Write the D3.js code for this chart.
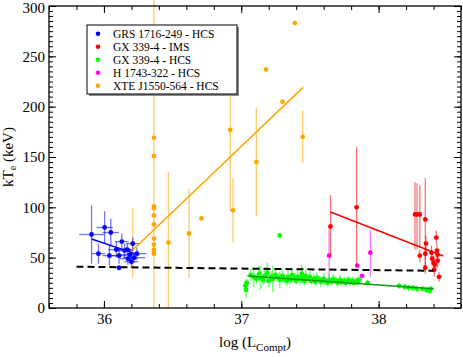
<!DOCTYPE html>
<html>
<head>
<meta charset="utf-8">
<script src="https://cdn.jsdelivr.net/npm/d3@7"></script>
<style>
  body { margin: 0; background: #fff; }
  svg text { font-family: "Liberation Serif", "Times New Roman", Times, "DejaVu Serif", serif; fill: #000; }
</style>
</head>
<body>
<svg id="chart" width="463" height="357"></svg>
<script>
// legend entries
const seriesNames = ['GRS 1716-249 - HCS', 'GX 339-4 - IMS', 'GX 339-4 - HCS', 'H 1743-322 - HCS', 'XTE J1550-564 - HCS'];
const seriesColors = ['#0000ff', '#ff0000', '#00ff00', '#ff00ff', '#ffa500'];

const xTicks = [36, 37, 38];
const yTicks = [0, 50, 100, 150, 200, 250, 300];

// GRS 1716-249 HCS: [logL, kTe, xerr, yerr]
const grsPoints = [
  [35.91, 73, 0.09, 29], [36.005, 80, 0.06, 16], [36.05, 75, 0.06, 14],
  [35.96, 54, 0.05, 10], [36.04, 52, 0.05, 10], [36.13, 66, 0.05, 8],
  [36.09, 58, 0.06, 8], [36.11, 52, 0.05, 8], [36.15, 57, 0.06, 7],
  [36.17, 58, 0.05, 6], [36.175, 49, 0.06, 6], [36.19, 53, 0.07, 6],
  [36.2, 46, 0.05, 6], [36.21, 64, 0.05, 6], [36.24, 54, 0.07, 6],
  [36.22, 50, 0.08, 5], [36.11, 40, 0, 0]
];

// GX 339-4 IMS: [logL, kTe, low, high]
const imsPoints = [
  [37.65, 81, 51, 112], [37.84, 100, 41, 160],
  [38.265, 93, 58, 125], [38.28, 93, 58, 124], [38.30, 93, 60, 122], [38.34, 88, 38, 129],
  [38.30, 52, 46, 58], [38.34, 54, 48, 60], [38.345, 64, 56, 72], [38.34, 40, 34, 47],
  [38.385, 55, 50, 62], [38.39, 49, 42, 55], [38.40, 45, 39, 52], [38.42, 70, 63, 77],
  [38.425, 57, 50, 63], [38.41, 43, 36, 49], [38.43, 47, 40, 53], [38.405, 38, 31, 44],
  [38.44, 31, 26, 36], [38.43, 53, 46, 58]
];

// GX 339-4 HCS: [logL, kTe, yerr]
const hcsPoints = [
  [37.03, 22, 6], [37.035, 18, 8], [37.04, 25, 4], [37.07, 33, 6], [37.09, 31, 10],
  [37.11, 29, 5], [37.13, 34, 8], [37.14, 30, 12], [37.16, 28, 5], [37.17, 32, 7],
  [37.19, 35, 10], [37.2, 27, 6], [37.22, 31, 5], [37.23, 29, 13], [37.25, 33, 6],
  [37.27, 30, 4], [37.28, 28, 8], [37.3, 32, 6], [37.31, 29, 4], [37.33, 27, 5],
  [37.34, 31, 7], [37.36, 28, 4], [37.37, 33, 6], [37.39, 30, 5], [37.4, 27, 4],
  [37.41, 31, 6], [37.43, 29, 5], [37.44, 34, 9], [37.45, 30, 6], [37.46, 27, 5],
  [37.47, 32, 7], [37.49, 29, 4], [37.5, 31, 6], [37.51, 27, 4], [37.53, 29, 5],
  [37.54, 26, 4], [37.55, 30, 5], [37.57, 28, 4], [37.58, 26, 5], [37.6, 29, 6],
  [37.61, 27, 4], [37.63, 25, 4], [37.64, 28, 5], [37.66, 26, 4], [37.67, 29, 5],
  [37.69, 27, 4], [37.7, 25, 4], [37.72, 28, 5], [37.73, 26, 4], [37.75, 27, 4],
  [37.76, 25, 4], [37.78, 28, 4], [37.79, 26, 4], [37.81, 27, 4], [37.82, 25, 3],
  [37.84, 27, 4], [37.85, 26, 3], [37.86, 28, 4], [37.92, 25, 3], [38.15, 22, 3],
  [38.19, 21, 3], [38.22, 20, 3], [38.25, 20, 3], [38.28, 19, 3], [38.32, 19, 3],
  [38.35, 18, 3], [38.37, 17, 3], [38.38, 19, 3], [37.28, 72, 0]
];

// H 1743-322 HCS: [logL, kTe, low, high]
const h1743Points = [
  [37.64, 52, 31, 81], [37.845, 42, null, null], [37.88, 32, null, null], [37.94, 55, 31, 77]
];

// XTE J1550-564 HCS: [logL, kTe, low, high]
const xtePoints = [
  [36.364, 169, 0, 310], [36.364, 151, null, null], [36.364, 101, null, null],
  [36.364, 99, null, null], [36.364, 92, null, null], [36.364, 83, null, null],
  [36.364, 69, null, null], [36.364, 63, null, null], [36.364, 58, null, null],
  [36.364, 56, null, null], [36.364, 54, null, null],
  [36.21, 64, 30, 99], [36.47, 65, 0, 135], [36.62, 74, 30, 119], [36.71, 89, null, null],
  [36.92, 177, 96, 213], [36.94, 97, 65, 129], [37.11, 145, 91, 199],
  [37.18, 237, null, null], [37.30, 205, null, null], [37.39, 283, null, null],
  [37.447, 170, 144, 196]
];

// linear fits and the mean line
const grsFit = [[35.91, 68.5], [36.22, 54.3]];
const imsFit = [[37.65, 95.4], [38.47, 51.7]];
const hcsFit = [[37.045, 31.8], [38.40, 19.2]];
const xteFit = [[36.21, 57.6], [37.45, 219.2]];
const meanLine = [[35.8, 41], [38.4, 37]];

const svg = d3.select('#chart');
const mLeft = 49, mRight = 461, mTop = 6, mBottom = 308;

const x = d3.scaleLinear().domain([35.6, 38.6]).range([mLeft, mRight]);
const y = d3.scaleLinear().domain([0, 300]).range([mBottom, mTop]);

const xMinor = d3.range(35.6, 38.61, 0.2);
const yMinor = d3.range(0, 301, 5);

// ticks on all four sides, pointing in
function ticks(makeAxis, pos, major, minor, labels) {
  const g = svg.append('g').attr('transform', pos);
  g.call(makeAxis().tickValues(minor).tickSize(-4).tickFormat(''));
  g.selectAll('.domain').remove();
  const g2 = svg.append('g').attr('transform', pos);
  g2.call(makeAxis().tickValues(major).tickSize(-7).tickFormat(labels ? d3.format('d') : ''));
  g2.selectAll('.domain').remove();
  g2.attr('font-family', null).attr('font-size', 15);
  svg.selectAll('.tick line').attr('stroke', '#000').attr('stroke-width', 1);
  return g2;
}

ticks(() => d3.axisBottom(x).tickPadding(5.5), `translate(0,${mBottom})`, xTicks, xMinor, true);
ticks(() => d3.axisTop(x), `translate(0,${mTop})`, xTicks, xMinor, false);
ticks(() => d3.axisLeft(y).tickPadding(4), `translate(${mLeft},0)`, yTicks, yMinor, true)
  .selectAll('text').attr('dy', d => d === 300 ? '0.45em' : '0.32em');
ticks(() => d3.axisRight(y), `translate(${mRight},0)`, yTicks, yMinor, false);

const plot = svg.append('g');
const line = d3.line().x(d => x(d[0])).y(d => y(d[1]));

// error bars
function vbar(data, color, lowFn, highFn, width) {
  plot.append('g').selectAll('line')
    .data(data.filter(d => lowFn(d) != null))
    .join('line')
    .attr('x1', d => x(d[0])).attr('x2', d => x(d[0]))
    .attr('y1', d => y(lowFn(d))).attr('y2', d => y(highFn(d)))
    .attr('stroke', color).attr('stroke-opacity', 0.55).attr('stroke-width', width || 1.3);
}
function hbar(data, color, errFn, width) {
  plot.append('g').selectAll('line')
    .data(data.filter(d => errFn(d) > 0))
    .join('line')
    .attr('x1', d => x(d[0] - errFn(d))).attr('x2', d => x(d[0] + errFn(d)))
    .attr('y1', d => y(d[1])).attr('y2', d => y(d[1]))
    .attr('stroke', color).attr('stroke-opacity', 0.55).attr('stroke-width', width || 1.3);
}
function dots(data, color, r) {
  plot.append('g').selectAll('circle')
    .data(data)
    .join('circle')
    .attr('cx', d => x(d[0])).attr('cy', d => y(d[1]))
    .attr('r', r || 2.4).attr('fill', color);
}

vbar(xtePoints, '#ffa500', d => d[2], d => d[3], 1.4);
dots(xtePoints, '#ffa500');

vbar(grsPoints, '#0000ff', d => d[3] > 0 ? d[1] - d[3] : null, d => d[1] + d[3]);
hbar(grsPoints, '#0000ff', d => d[2]);
dots(grsPoints, '#0000ff');

vbar(hcsPoints, '#00ff00', d => d[2] > 0 ? d[1] - d[2] : null, d => d[1] + d[2], 1.6);
hbar(hcsPoints, '#00ff00', d => d[2] > 0 ? 0.015 : 0, 2.5);
dots(hcsPoints, '#00ff00');

vbar(h1743Points, '#ff00ff', d => d[2], d => d[3]);
dots(h1743Points, '#ff00ff');

vbar(imsPoints, '#ff0000', d => d[2], d => d[3]);
dots(imsPoints, '#ff0000');

// fits
plot.append('path').datum(grsFit).attr('d', line).attr('stroke', '#0000ff').attr('stroke-width', 1.5).attr('fill', 'none');
plot.append('path').datum(xteFit).attr('d', line).attr('stroke', '#ffa500').attr('stroke-width', 1.5).attr('fill', 'none');
plot.append('path').datum(imsFit).attr('d', line).attr('stroke', '#ff0000').attr('stroke-width', 1.5).attr('fill', 'none');
plot.append('path').datum(hcsFit).attr('d', line).attr('stroke', '#109910').attr('stroke-width', 1.5).attr('fill', 'none');
plot.append('path').datum(meanLine).attr('d', line).attr('stroke', '#000').attr('stroke-width', 2)
  .attr('stroke-dasharray', '7,4').attr('fill', 'none');

// frame
svg.append('rect')
  .attr('x', mLeft).attr('y', mTop)
  .attr('width', mRight - mLeft).attr('height', mBottom - mTop)
  .attr('fill', 'none').attr('stroke', '#000').attr('stroke-width', 1.3);

// legend
const lg = svg.append('g').attr('transform', 'translate(87,25)');
lg.append('rect').attr('x', 2).attr('y', 2).attr('width', 150).attr('height', 69).attr('fill', '#8c8c8c');
lg.append('rect').attr('width', 150).attr('height', 69).attr('fill', '#fff').attr('stroke', '#000').attr('stroke-width', 1);
seriesNames.forEach((name, i) => {
  lg.append('circle').attr('cx', 11).attr('cy', 8.7 + 13 * i).attr('r', 2.3).attr('fill', seriesColors[i]);
  lg.append('text').attr('x', 26).attr('y', 12.8 + 13 * i).attr('font-size', 11.5).text(name);
});

// axis titles
const xl = svg.append('text')
  .attr('x', (mLeft + mRight) / 2).attr('y', 347)
  .attr('text-anchor', 'middle').attr('font-size', 15);
xl.append('tspan').text('log (L');
xl.append('tspan').attr('font-size', 11).attr('dy', 4).text('Compt');
xl.append('tspan').attr('dy', -4).text(')');

const yl = svg.append('text')
  .attr('transform', `translate(13,${(mTop + mBottom) / 2}) rotate(-90)`)
  .attr('text-anchor', 'middle').attr('font-size', 15);
yl.append('tspan').text('kT');
yl.append('tspan').attr('font-size', 10).attr('dy', 3).text('e');
yl.append('tspan').attr('dy', -3).text(' (keV)');
</script>
</body>
</html>
